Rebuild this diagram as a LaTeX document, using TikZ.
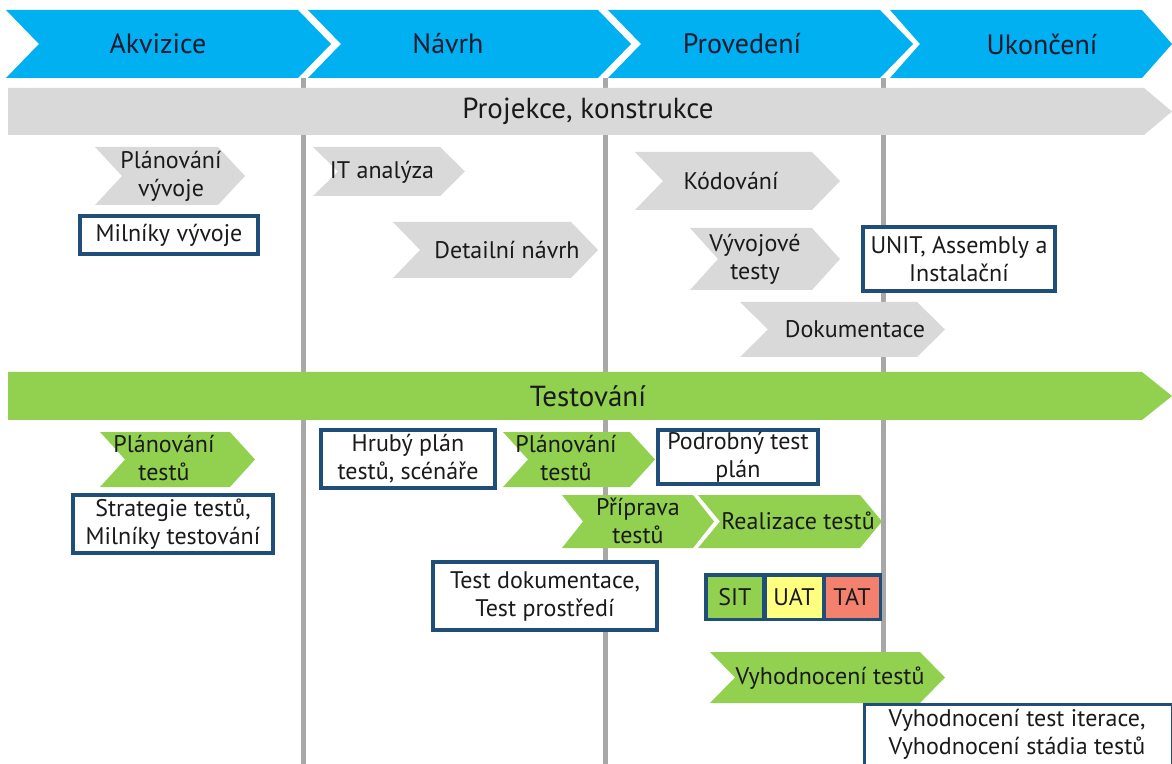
\documentclass[tikz,border=0pt]{standalone}
\usepackage{fontspec}
\setmainfont{PT Sans}
\definecolor{hdrblue}{HTML}{00B0F0}
\definecolor{bandgrey}{HTML}{D9D9D9}
\definecolor{tgreen}{HTML}{92D050}
\definecolor{boxblue}{HTML}{1F4E79}
\definecolor{rulegrey}{HTML}{A8A8A8}
\definecolor{txtcol}{HTML}{1A1A1A}
\definecolor{hdrtxt}{HTML}{1A1A30}
\definecolor{uatyel}{HTML}{FFFF80}
\definecolor{tatred}{HTML}{F4806E}
% chevron: [style] x-left, y-top, x-tip, y-bottom, depth of point/notch
\newcommand\chevron[6][]{%
  \path[#1] (#2,#3) -- ({#4-#6},#3) -- (#4,{(#3+#5)/2}) -- ({#4-#6},#5)
    -- (#2,#5) -- ({#2+#6},{(#3+#5)/2}) -- cycle;}
% band with flat left end and pointed right end
\newcommand\band[6][]{%
  \path[#1] (#2,#3) -- ({#4-#6},#3) -- (#4,{(#3+#5)/2}) -- ({#4-#6},#5)
    -- (#2,#5) -- cycle;}
\begin{document}
\begin{tikzpicture}[x=0.5pt,y=-0.5pt,
  txt/.style={font=\fontsize{12}{14}\selectfont, align=center, inner sep=0pt, text=txtcol},
  hdrtext/.style={font=\fontsize{14}{16}\selectfont, inner sep=0pt, text=hdrtxt},
  bandtext/.style={font=\fontsize{14.5}{16}\selectfont, inner sep=0pt, text=txtcol},
  hdr/.style={fill=hdrblue},
  greyfill/.style={fill=bandgrey},
  greenfill/.style={fill=tgreen},
  outbox/.style={draw=boxblue, line width=1.6pt, fill=white},
  rule/.style={draw=rulegrey, line width=2.5pt}]
\useasboundingbox (0,0) rectangle (1172,764);
\clip (0,0) rectangle (1172,764);

% phase separators
\coordinate (r1t) at (303,78); \coordinate (r1b) at (303,764);
\coordinate (r2t) at (605,78); \coordinate (r2b) at (605,764);
\coordinate (r3t) at (883,78); \coordinate (r3b) at (883,764);
\draw[rule] (r1t) -- (r1b);
\draw[rule] (r2t) -- (r2b);
\draw[rule] (r3t) -- (r3b);

% phase header
\chevron[hdr]{6}{10}{331}{78}{33}
\chevron[hdr]{308}{10}{631}{78}{33}
\chevron[hdr]{608}{10}{913}{78}{33}
\chevron[hdr]{890}{10}{1172}{78}{30}
\node[hdrtext] (akv) at (158,44) {Akvizice};
\node[hdrtext] (nav) at (448,44) {Návrh};
\node[hdrtext] (pro) at (742,44) {Provedení};
\node[hdrtext] (uko) at (1042,44) {Ukončení};

% construction band
\band[greyfill]{8}{88}{1172}{135}{28}
\node[bandtext] (proj) at (588,111) {Projekce, konstrukce};

\chevron[greyfill]{95}{147}{245}{205}{27}
\node[txt] (pv) at (171,176) {Plánování\\vývoje};
\node[outbox, minimum width=89pt, minimum height=19pt] (mv) at (169,235) {};
\node[txt] (mvt) at (mv) {Milníky vývoje};

\chevron[greyfill]{313}{147}{465}{196}{25}
\node[txt] (ita) at (382,172) {IT analýza};
\chevron[greyfill]{393}{222}{598}{278}{27}
\node[txt] (dn) at (507,250) {Detailní návrh};

\chevron[greyfill]{635}{152}{840}{210}{28}
\node[txt] (kod) at (731,181) {Kódování};
\chevron[greyfill]{690}{228}{840}{290}{28}
\node[txt] (vt) at (755,259) {Vývojové\\testy};
\node[outbox, minimum width=96pt, minimum height=32pt] (unit) at (959,259) {};
\node[txt] (unitt) at (unit) {UNIT, Assembly a\\Instalační};
\chevron[greyfill]{740}{302}{945}{357}{28}
\node[txt] (dok) at (855,329) {Dokumentace};

% testing band
\band[greenfill]{8}{372}{1172}{420}{30}
\node[bandtext] (tst) at (588,396) {Testování};

\chevron[greenfill]{100}{432}{255}{487}{25}
\node[txt] (pt1) at (164,458) {Plánování\\testů};
\node[outbox, minimum width=100pt, minimum height=29pt] (strat) at (173,524) {};
\node[txt] (stratt) at (strat) {Strategie testů,\\Milníky testování};

\node[outbox, minimum width=87pt, minimum height=29pt] (hrub) at (408,459) {};
\node[txt] (hrubt) at (hrub) {Hrubý plán\\testů, scénáře};
\chevron[greenfill]{503}{432}{655}{487}{25}
\node[txt] (pt2) at (566,458) {Plánování\\testů};
\node[outbox, minimum width=80pt, minimum height=27pt] (podr) at (738,457) {};
\node[txt] (podrt) at (podr) {Podrobný test\\plán};

\chevron[greenfill]{562}{495}{714}{548}{21}
\node[txt] (prip) at (638,521) {Příprava\\testů};
\chevron[greenfill]{698}{495}{882}{548}{22}
\node[txt] (real) at (798,521) {Realizace testů};

\node[outbox, minimum width=112pt, minimum height=34pt] (tdok) at (545,596) {};
\node[txt] (tdokt) at (tdok) {Test dokumentace,\\Test prostředí};

\node[fill=boxblue, minimum width=89pt, minimum height=24pt, inner sep=0pt] (sut) at (793,597) {};
\node[fill=tgreen, minimum width=27pt, minimum height=20.5pt, inner sep=0pt] (sit) at (735,597) {};
\node[fill=uatyel, minimum width=27.5pt, minimum height=20.5pt, inner sep=0pt] (uat) at (794,597) {};
\node[fill=tatred, minimum width=26.5pt, minimum height=20.5pt, inner sep=0pt] (tat) at (852,597) {};
\node[txt] at (sit) {SIT};
\node[txt] at (uat) {UAT};
\node[txt] at (tat) {TAT};

\chevron[greenfill]{710}{652}{945}{703}{25}
\node[txt] (vyh) at (830,678) {Vyhodnocení testů};

\node[outbox, minimum width=154pt, minimum height=34pt, anchor=north west] (vbox) at (863,703) {};
\node[txt] (vboxt) at (1017,734) {Vyhodnocení test iterace,\\Vyhodnocení stádia testů};
\end{tikzpicture}
\end{document}
